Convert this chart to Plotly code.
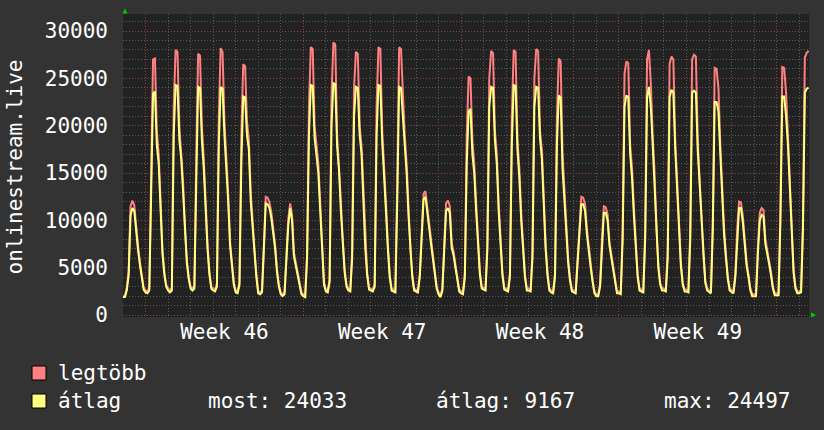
import pandas as pd
import plotly.graph_objects as go

# ---------------- data ----------------
series_names = ["legtöbb", "átlag"]
start_time = "2021-11-14 00:00"
sample_step = "2h"
x_end = "2021-12-14 10:26"
week_tick0 = "2021-11-15"
week_label_format = "Week %V"
y_label = "onlinestream.live"
legend_stats = ["most: 24033", "átlag: 9167", "max: 24497"]

# "legtöbb" (maximum), one row per day, 2-hour samples
max_values = [
    2000, 2000, 2900, 4600, 11500, 12100, 11600, 9200, 7300, 5600, 4000, 2900,
    2600, 2500, 2900, 15000, 27000, 27100, 19500, 17000, 12000, 7000, 4600, 3200,
    2800, 2600, 2900, 22000, 28000, 27800, 20000, 17500, 14000, 9000, 5800, 4000,
    3000, 2800, 3100, 17000, 27600, 27400, 20000, 16500, 11800, 7500, 4600, 3000,
    2800, 2700, 3300, 21000, 28200, 27800, 20500, 17000, 12800, 7800, 5100, 3400,
    2600, 2500, 3500, 19000, 26500, 26300, 20500, 18500, 13000, 9600, 7000, 4300,
    2500, 2400, 2600, 7200, 12500, 12400, 11900, 10800, 9000, 7400, 4800, 3200,
    2400, 2200, 2400, 6500, 10200, 11800, 10600, 6600, 5600, 4500, 3200, 2400,
    2200, 2100, 6500, 22000, 28300, 28100, 20000, 18000, 16000, 11800, 7000, 3500,
    2700, 2600, 3800, 23000, 28800, 28600, 19000, 16000, 12000, 8000, 4900, 3200,
    2800, 2700, 6800, 24000, 27800, 27600, 20000, 17800, 12800, 7500, 4500, 2900,
    2800, 2700, 3300, 22000, 28300, 28100, 19500, 16000, 11800, 7500, 4300, 2800,
    2700, 2600, 14000, 28300, 28100, 23000, 19000, 16000, 11300, 7000, 4300, 2800,
    2700, 2600, 4300, 9600, 12800, 13100, 11000, 9700, 8000, 6400, 4700, 3000,
    2400, 2100, 2800, 7000, 11800, 12100, 11500, 7600, 6700, 5300, 3800, 2700,
    2500, 2400, 4500, 19000, 25200, 25000, 18500, 16000, 11800, 7500, 4600, 3000,
    2900, 2800, 8000, 25000, 27900, 27700, 19500, 17000, 11800, 7500, 4500, 2900,
    2800, 2700, 4500, 21000, 28000, 27800, 18500, 15500, 10800, 6800, 4300, 2800,
    2800, 2700, 6800, 25000, 28100, 27900, 19500, 17500, 11800, 7500, 4500, 2800,
    2600, 2500, 4500, 21000, 27100, 26800, 17000, 13000, 9000, 5900, 3900, 2700,
    2600, 2500, 5900, 10000, 12500, 12400, 11700, 9000, 7000, 5300, 3700, 2500,
    2200, 2200, 3300, 8200, 11500, 11400, 10600, 7700, 6300, 4900, 3600, 2500,
    2500, 2400, 9000, 25500, 26800, 26600, 18000, 15500, 11300, 7000, 4300, 2800,
    2700, 2600, 9000, 27000, 28000, 24500, 19000, 15000, 9200, 5400, 3400, 2800,
    2800, 2700, 7000, 26500, 27300, 27000, 18500, 14500, 9200, 5600, 3400, 2700,
    2700, 2600, 9000, 27000, 27500, 27300, 18300, 14800, 10200, 6200, 3700, 2800,
    2600, 2500, 10000, 26100, 26000, 24000, 18000, 13000, 9200, 6400, 4100, 2800,
    2600, 2500, 4400, 9200, 12000, 11900, 10400, 8000, 5600, 4300, 2800, 2200,
    2200, 2200, 7200, 10800, 11300, 11100, 8000, 6600, 5700, 4500, 3000, 2300,
    2300, 2300, 11000, 26200, 26100, 23500, 19000, 14000, 8300, 4800, 3000, 2500,
    2500, 2600, 10000, 27200, 27700, 27900,
]

# "átlag" (average), one row per day, 2-hour samples
avg_values = [
    1900, 1900, 2600, 4200, 10500, 11300, 11000, 8700, 6900, 5300, 3800, 2700,
    2400, 2300, 2600, 12500, 23400, 23600, 18000, 16000, 11000, 6500, 4300, 3000,
    2600, 2400, 2600, 19000, 24300, 24200, 18500, 16500, 13000, 8500, 5500, 3800,
    2800, 2600, 2800, 14000, 24100, 24000, 18500, 15500, 11000, 7000, 4300, 2800,
    2600, 2500, 3000, 18000, 24100, 23900, 19000, 16000, 12000, 7300, 4800, 3200,
    2400, 2300, 3200, 16000, 23100, 23000, 19000, 17500, 12000, 9000, 6500, 4000,
    2300, 2200, 2400, 6500, 11800, 11700, 11300, 10200, 8500, 7000, 4500, 3000,
    2200, 2000, 2200, 6000, 9500, 11300, 10000, 6200, 5200, 4200, 3000, 2200,
    2000, 1900, 6000, 19000, 24300, 24200, 18700, 17000, 15000, 11000, 6500, 3200,
    2500, 2400, 3500, 20000, 24497, 24400, 17800, 15300, 11000, 7500, 4500, 3000,
    2600, 2500, 6000, 21000, 24100, 24000, 19000, 17000, 12000, 7000, 4200, 2700,
    2600, 2500, 3000, 19000, 24300, 24200, 18300, 15000, 11000, 7000, 4000, 2600,
    2500, 2400, 12000, 24100, 24000, 21000, 18000, 15000, 10500, 6500, 4000, 2600,
    2500, 2400, 4000, 9000, 12200, 12500, 10500, 9200, 7500, 6000, 4400, 2800,
    2200, 1900, 2500, 6500, 11000, 11300, 10800, 7100, 6300, 5000, 3500, 2500,
    2300, 2200, 4000, 16000, 21500, 21800, 17000, 15000, 11000, 7000, 4300, 2800,
    2700, 2600, 7000, 22000, 24100, 24000, 18500, 16000, 11000, 7000, 4200, 2700,
    2600, 2500, 4000, 18000, 24300, 24200, 17500, 14500, 10000, 6300, 4000, 2600,
    2600, 2500, 6000, 22000, 24100, 24000, 18700, 16500, 11000, 7000, 4200, 2600,
    2400, 2300, 4000, 18000, 23200, 23000, 15500, 12000, 8300, 5500, 3600, 2500,
    2400, 2300, 5500, 9300, 11700, 11700, 11000, 8500, 6500, 5000, 3500, 2300,
    2000, 2000, 3000, 7600, 10800, 10800, 10000, 7300, 6000, 4600, 3400, 2300,
    2300, 2200, 8000, 22000, 23200, 23000, 17000, 14500, 10500, 6500, 4000, 2600,
    2500, 2400, 8000, 23000, 24100, 22000, 18000, 14000, 8500, 5000, 3200, 2600,
    2600, 2500, 6000, 23000, 23800, 23500, 17500, 13500, 8500, 5200, 3200, 2500,
    2500, 2400, 8000, 23500, 23700, 23500, 17300, 13800, 9500, 5800, 3400, 2600,
    2400, 2300, 9000, 22500, 22500, 21500, 17000, 12000, 8500, 6000, 3800, 2600,
    2400, 2300, 4000, 8500, 11300, 11300, 9800, 7500, 5200, 4000, 2600, 2000,
    2000, 2000, 6500, 10000, 10600, 10400, 7500, 6200, 5400, 4200, 2800, 2100,
    2100, 2100, 10000, 23100, 23100, 21000, 18000, 13000, 7700, 4500, 2800, 2300,
    2300, 2400, 9000, 23500, 23900, 24033,
]

# ---------------- styling / layout ----------------
W, H = 824, 430
ML, MR, MT, MB = 123, 15, 14, 113
PW, PH = W - ML - MR, H - MT - MB
FONT = "DejaVu Sans Mono"
FS = 21
RED, YELLOW = "#ff8080", "#ffff80"
PAPER, CANVAS = "#333333", "#222222"
MINOR_GRID, MAJOR_GRID = "#5a5a5a", "#8c4444"
ARROW = "#00cc00"


def px(x):
    return (x - ML) / PW


def py(y):
    return (H - MB - y) / PH


times = pd.date_range(start_time, periods=len(avg_values), freq=sample_step)

fig = go.Figure()
fig.add_trace(go.Scatter(x=times, y=max_values, mode="lines", name=series_names[0],
                         line=dict(color=RED, width=2), hoverinfo="skip"))
fig.add_trace(go.Scatter(x=times, y=avg_values, mode="lines", name=series_names[1],
                         line=dict(color=YELLOW, width=2), hoverinfo="skip"))

fig.update_layout(
    width=W, height=H,
    margin=dict(l=ML, r=MR, t=MT, b=MB, pad=0),
    paper_bgcolor=PAPER, plot_bgcolor=CANVAS,
    font=dict(family=FONT, size=FS, color="#ffffff"),
    showlegend=False,
)

fig.update_xaxes(
    type="date", range=[start_time, x_end],
    tick0=week_tick0, dtick=7 * 86400000,
    tickformat=week_label_format, ticklabelmode="period",
    ticks="", showline=False, zeroline=False,
    showgrid=True, gridcolor=MAJOR_GRID, gridwidth=1, griddash="1px,2px",
    minor=dict(dtick=86400000, tick0=week_tick0, showgrid=True,
               gridcolor=MINOR_GRID, gridwidth=1, griddash="1px,2px"),
    tickfont=dict(family=FONT, size=FS, color="#ffffff"),
)

fig.update_yaxes(
    range=[-200, 31800], tick0=0, dtick=5000, tickformat="d",
    ticks="", showline=False, zeroline=False, ticklabelstandoff=14,
    showgrid=True, gridcolor=MAJOR_GRID, gridwidth=1, griddash="1px,2px",
    minor=dict(dtick=1000, tick0=0, showgrid=True,
               gridcolor=MINOR_GRID, gridwidth=1, griddash="1px,2px"),
    tickfont=dict(family=FONT, size=FS, color="#ffffff"),
)

shapes = [
    # axis arrows
    dict(type="path", xref="paper", yref="paper",
         path=f"M {px(122.5)},{py(13.5)} L {px(125)},{py(8.5)} L {px(127.5)},{py(13.5)} Z",
         fillcolor=ARROW, line=dict(width=0)),
    dict(type="path", xref="paper", yref="paper",
         path=f"M {px(811)},{py(312.5)} L {px(816)},{py(315)} L {px(811)},{py(317.5)} Z",
         fillcolor=ARROW, line=dict(width=0)),
    # legend swatches
    dict(type="rect", xref="paper", yref="paper",
         x0=px(32), x1=px(46), y0=py(366), y1=py(380),
         fillcolor=RED, line=dict(color="#000000", width=1)),
    dict(type="rect", xref="paper", yref="paper",
         x0=px(32), x1=px(46), y0=py(394), y1=py(408),
         fillcolor=YELLOW, line=dict(color="#000000", width=1)),
]

ann_font = dict(family=FONT, size=FS, color="#ffffff")
annotations = [
    dict(text=y_label, xref="paper", yref="paper", x=px(14), y=py(167.5),
         textangle=-90, xanchor="center", yanchor="middle", showarrow=False, font=ann_font),
    dict(text=series_names[0], xref="paper", yref="paper", x=px(56), y=py(373),
         xanchor="left", yanchor="middle", showarrow=False, font=ann_font),
    dict(text=series_names[1], xref="paper", yref="paper", x=px(56), y=py(401),
         xanchor="left", yanchor="middle", showarrow=False, font=ann_font),
]
for xpos, txt in zip([206, 434, 662], legend_stats):
    annotations.append(dict(text=txt, xref="paper", yref="paper", x=px(xpos), y=py(401),
                            xanchor="left", yanchor="middle", showarrow=False, font=ann_font))

fig.update_layout(shapes=shapes, annotations=annotations)

# remove the browser's default 8px page margin so the figure sits at (0, 0)
page_fix = ("document.body.style.margin='0';document.body.style.padding='0';"
            "document.body.style.background='" + PAPER + "';")
fig.write_html("out.html", post_script=page_fix,
               config={"displayModeBar": False, "staticPlot": True})
